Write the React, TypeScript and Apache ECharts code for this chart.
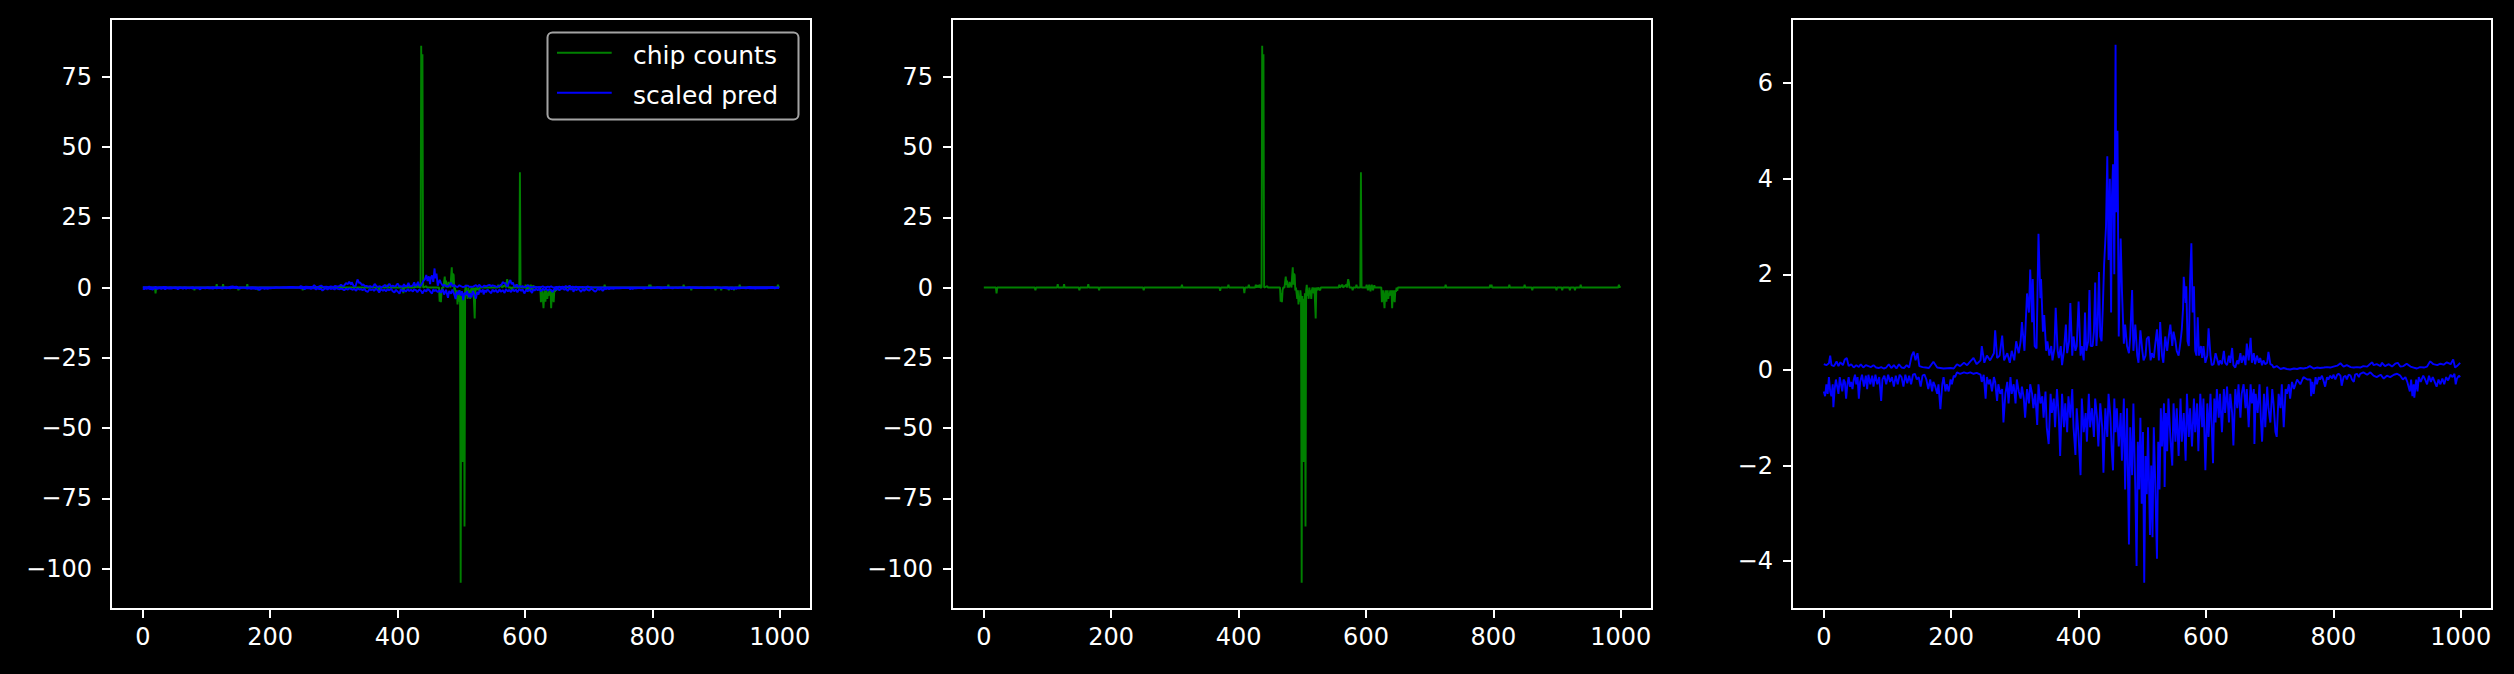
import React, { useEffect, useRef } from "react";
import * as echarts from "echarts";

// ---------- data ----------
const chipX = [0,19,20,21,80,81,82,115,116,117,125,126,127,149,150,151,163,164,165,180,181,182,250,251,252,310,311,312,370,371,372,383,384,385,408,409,410,415,416,417,426,427,428,430,431,433,434,436,437,438,439,440,445,446,465,466,467,468,469,470,472,473,474,475,476,477,478,479,480,481,482,483,484,485,486,487,488,489,490,491,492,493,494,495,496,497,498,499,500,501,502,503,504,505,506,507,508,509,510,511,512,513,514,515,516,518,519,520,521,522,524,525,528,529,557,558,559,563,564,569,570,571,572,573,574,578,579,580,584,585,586,591,592,593,600,601,602,603,604,605,606,607,608,609,610,611,612,613,614,624,625,626,627,628,629,630,631,632,633,634,635,636,637,638,639,640,641,642,643,644,645,646,647,648,649,650,724,725,726,794,795,796,797,798,824,825,826,848,849,850,860,861,862,898,899,900,907,908,909,919,920,921,927,928,929,936,937,938,996,997,998,999];
const chipCounts = [0,0,-2.1,0,0,-1,0,0,1.2,0,0,1.2,0,0,-1,0,0,1.2,0,0,-1,0,0,-1,0,0,1,0,0,-1.2,0,0,1,0,0,-2,0,0,1,0,0,1,0,0.8,0,1,0,0,86,62,83,0,0.5,0,0,-5,-2,-5.2,-1,0,0,2,3.9,1,2.5,0,1,0,2,0.5,1,0,4,7.2,1,5,4.4,-1,0,-2,-4,-1,-6,-3,-5,-1,-4,-105,-3,-62,-4,-62,-2,-85,-1,1,-3,-1,-4,0,-2,-1,-4,-1,0,-2,0,0,-11,0,-1,0,-1,0,0,1,0,1,0,1,0,0,3,2,0,0,-1,0,0,1,0,0,41,0,0,1,0,-1,0,1,0,-1.3,0,1,0,-1,0,0.8,0,0,-5.2,-2,-1,-4,-7.3,-3,-1,-5,-2,-1,-4,-2,-3,-1,-2,-1,-7.3,-3,-1,-4,-5.2,-1,-1.5,0,-1.2,0,0,1,0,0,1,0,1,0,0,1,0,0,1,0,0,-1,0,0,-1,0,0,-1,0,0,-1,0,0,-1,0,0,1,0,0,1,0,0.5];

const predUpperX = [0,4,8,10,12,16,20,23,26,30,33,36,39,43,47,51,55,58,62,66,70,74,78,82,86,90,94,98,102,106,110,114,118,122,126,130,134,138,141,144,147,150,155,160,165,172,178,188,199,204,209,214,220,225,230,235,240,246,248,252,256,261,267,269,272,276,280,283,288,292,295,299,302,306,309,311,315,319,322,324,327,328,331,334,337,340,341,344,346,349,351,354,357,359,362,364,367,369,372,374,377,380,382,385,387,390,392,395,397,400,403,405,408,410,412,415,417,419,422,424,426,428,430,432,434,436,438,440,443,445,447,449,451,452,454,456,458,459,461,463,466,468,471,473,476,479,481,484,486,489,492,494,497,500,502,505,507,510,513,515,518,520,523,526,528,531,533,536,539,541,544,547,549,552,554,557,560,562,564,565,568,569,571,573,575,577,579,581,583,585,587,589,592,594,596,599,602,604,607,609,612,615,617,620,622,625,628,630,633,636,638,641,643,646,649,651,654,656,659,662,664,667,670,672,675,677,680,683,685,688,690,693,696,698,701,704,706,711,717,722,727,732,738,743,748,753,759,763,769,774,779,785,790,795,800,806,811,816,821,827,832,837,842,847,853,858,861,863,868,874,876,881,887,892,897,901,905,910,915,921,926,931,936,942,947,952,957,963,968,973,978,984,988,991,994,997,999];
const predUpper = [0.12,0.10,0.14,0.30,0.10,0.08,0.18,0.08,0.16,0.10,0.22,0.25,0.08,0.12,0.05,0.10,0.06,0.12,0.05,0.10,0.08,0.06,0.10,0.05,0.04,0.06,0.03,0.05,0.12,0.04,0.10,0.03,0.12,0.05,0.04,0.10,0.05,0.30,0.38,0.20,0.35,0.08,0.06,0.05,0.04,0.17,0.05,0.03,0.04,0.03,0.12,0.08,0.15,0.10,0.18,0.25,0.12,0.20,0.50,0.15,0.30,0.20,0.35,0.83,0.25,0.30,0.72,0.20,0.35,0.15,0.40,0.20,0.60,0.35,0.60,1.00,0.40,1.60,1.20,2.10,1.00,1.90,0.50,0.45,2.85,1.50,1.90,0.80,1.15,0.40,0.60,0.30,0.50,0.20,0.45,1.30,0.40,0.25,0.50,0.10,0.40,0.95,0.35,0.60,1.40,0.30,0.70,0.40,0.50,1.43,0.30,0.50,0.20,1.20,0.40,0.60,1.67,0.50,0.50,0.80,1.83,0.50,1.00,2.05,0.70,0.60,1.30,2.20,3.00,4.47,2.30,4.00,1.20,3.50,4.30,2.00,6.80,3.30,5.00,0.70,2.75,1.67,0.55,0.95,0.50,0.35,0.70,1.67,0.40,0.95,0.30,0.15,0.83,0.40,0.20,0.30,0.65,0.70,0.20,0.35,0.25,0.50,0.85,0.20,1.00,0.30,0.15,0.70,0.40,0.65,0.95,0.50,0.80,0.60,0.40,0.30,0.60,0.85,1.30,1.95,1.40,1.75,0.60,0.50,1.90,2.65,1.20,1.75,0.40,0.30,1.10,0.30,0.50,0.25,0.50,0.15,0.30,0.87,0.30,0.10,0.12,0.35,0.25,0.10,0.20,0.12,0.40,0.15,0.10,0.30,0.15,0.46,0.10,0.05,0.20,0.12,0.35,0.15,0.30,0.10,0.55,0.20,0.67,0.15,0.35,0.12,0.30,0.15,0.25,0.10,0.20,0.12,0.15,0.38,0.12,0.10,0.05,0.08,0.02,0.04,0.02,0.01,0.03,0.02,0.04,0.03,0.05,0.08,0.03,0.05,0.04,0.05,0.06,0.05,0.07,0.09,0.14,0.07,0.10,0.06,0.05,0.06,0.05,0.08,0.07,0.13,0.16,0.10,0.12,0.08,0.15,0.08,0.12,0.07,0.13,0.15,0.07,0.08,0.13,0.07,0.05,0.03,0.06,0.05,0.07,0.18,0.12,0.10,0.13,0.11,0.16,0.12,0.22,0.05,0.08,0.12,0.15];

const predLowerX = [0,2,4,6,8,10,12,14,15,17,19,21,23,25,27,29,31,33,35,37,39,41,43,45,47,49,51,53,55,57,60,63,66,68,70,73,76,78,81,84,87,90,92,95,98,101,104,107,110,113,116,119,122,125,128,131,134,137,140,143,146,149,152,155,158,161,164,167,170,172,175,178,180,183,186,188,191,193,196,199,201,204,206,209,214,220,225,230,235,240,246,248,251,254,256,259,261,264,267,269,272,274,277,280,282,285,288,290,293,295,298,301,303,306,309,311,314,316,319,322,324,327,329,332,335,337,340,343,345,348,350,353,356,358,361,363,366,369,371,374,377,379,382,384,387,390,392,395,397,400,403,405,408,411,413,416,418,421,424,426,429,431,434,437,439,442,445,447,450,452,454,456,458,460,463,466,468,471,473,476,479,481,484,486,489,491,493,495,497,499,501,503,505,507,509,512,514,516,518,520,523,525,527,529,531,534,535,537,539,541,544,547,549,552,554,557,560,562,565,568,570,573,575,578,581,583,586,588,591,594,596,599,602,604,607,609,611,613,615,617,620,622,625,628,630,633,636,638,641,643,646,649,651,654,656,659,662,664,667,670,672,675,676,678,681,684,686,688,691,693,696,698,701,704,706,709,711,714,717,719,722,725,727,730,732,735,738,743,748,753,759,764,765,767,769,772,774,777,779,782,785,787,790,792,795,798,800,803,806,808,811,813,816,819,821,824,827,829,832,834,837,840,842,847,853,858,863,868,874,879,884,889,895,900,905,909,913,916,920,922,924,926,927,930,932,934,937,941,944,947,950,953,956,959,962,965,968,971,974,977,980,984,987,990,992,994,997,999];
const predLower = [-0.45,-0.55,-0.3,-0.5,-0.15,-0.45,-0.55,-0.3,-0.78,-0.4,-0.2,-0.35,-0.5,-0.15,-0.3,-0.45,-0.2,-0.25,-0.6,-0.3,-0.15,-0.35,-0.25,-0.4,-0.2,-0.1,-0.3,-0.15,-0.6,-0.25,-0.1,-0.35,-0.12,-0.4,-0.1,-0.3,-0.12,-0.35,-0.1,-0.3,-0.15,-0.65,-0.2,-0.12,-0.3,-0.1,-0.25,-0.15,-0.35,-0.12,-0.3,-0.1,-0.15,-0.35,-0.1,-0.28,-0.12,-0.3,-0.1,-0.08,-0.2,-0.15,-0.35,-0.12,-0.1,-0.2,-0.4,-0.2,-0.45,-0.25,-0.35,-0.5,-0.3,-0.82,-0.3,-0.15,-0.45,-0.3,-0.45,-0.2,-0.3,-0.12,-0.15,-0.05,-0.08,-0.05,-0.07,-0.05,-0.08,-0.06,-0.1,-0.25,-0.1,-0.6,-0.15,-0.3,-0.2,-0.45,-0.15,-0.25,-0.65,-0.3,-0.5,-0.4,-1.1,-0.5,-0.25,-0.7,-0.15,-0.5,-0.3,-0.7,-0.2,-0.45,-0.6,-0.35,-0.6,-1.0,-0.4,-0.7,-0.3,-0.5,-0.8,-0.5,-1.15,-0.3,-0.7,-0.55,-1.0,-0.45,-1.2,-1.55,-0.5,-0.9,-0.6,-1.2,-0.4,-1.0,-1.8,-0.5,-1.2,-0.7,-1.3,-0.55,-1.0,-0.4,-1.2,-1.78,-0.8,-1.4,-2.2,-0.6,-1.3,-0.9,-1.5,-0.5,-1.2,-0.8,-1.4,-0.6,-1.0,-1.6,-0.7,-1.2,-2.15,-0.8,-1.4,-0.5,-1.0,-1.7,-2.1,-0.6,-1.3,-0.8,-1.6,-0.9,-1.9,-0.6,-2.5,-0.8,-3.65,-1.2,-2.2,-0.7,-2.5,-4.1,-1.5,-2.5,-1.0,-2.8,-1.3,-4.45,-1.8,-2.6,-1.2,-3.45,-2.0,-3.5,-1.2,-2.2,-3.95,-1.5,-2.5,-0.8,-1.6,-0.7,-2.45,-0.9,-1.7,-0.6,-1.4,-2.0,-0.7,-1.5,-0.8,-1.8,-0.6,-1.5,-0.9,-1.9,-0.5,-1.4,-0.8,-1.6,-0.6,-1.3,-0.7,-1.7,-0.5,-1.2,-0.6,-2.1,-0.7,-1.4,-0.5,-1.2,-1.95,-0.6,-1.1,-0.4,-1.0,-0.5,-1.3,-0.4,-0.9,-0.35,-1.1,-0.5,-0.9,-1.58,-0.4,-0.8,-0.3,-1.0,-0.5,-0.3,-0.8,-0.4,-1.2,-0.3,-0.7,-0.4,-1.55,-0.5,-0.9,-0.3,-1.0,-1.5,-0.5,-1.2,-0.35,-0.8,-1.1,-0.4,-0.7,-1.3,-1.4,-0.5,-0.8,-0.3,-1.2,-0.4,-0.5,-0.3,-0.6,-0.25,-0.4,-0.2,-0.3,-0.15,-0.2,-0.2,-0.55,-0.25,-0.5,-0.15,-0.3,-0.15,-0.2,-0.12,-0.25,-0.35,-0.15,-0.2,-0.12,-0.18,-0.1,-0.2,-0.1,-0.08,-0.12,-0.33,-0.15,-0.12,-0.2,-0.1,-0.12,-0.2,-0.25,-0.1,-0.08,-0.15,-0.08,-0.05,-0.1,-0.05,-0.12,-0.15,-0.1,-0.18,-0.12,-0.15,-0.1,-0.08,-0.12,-0.2,-0.15,-0.25,-0.45,-0.2,-0.55,-0.3,-0.58,-0.2,-0.45,-0.15,-0.25,-0.12,-0.2,-0.3,-0.12,-0.25,-0.15,-0.25,-0.35,-0.2,-0.3,-0.18,-0.3,-0.15,-0.22,-0.1,-0.15,-0.08,-0.3,-0.18,-0.12,-0.15];

const xTicks = [0, 200, 400, 600, 800, 1000];
const countTicks = [-100, -75, -50, -25, 0, 25, 50, 75];
const predTicks = [-4, -2, 0, 2, 4, 6];
const legendLabels = ["chip counts", "scaled pred"];
const GREEN = "#008000";
const BLUE = "#0000ff";

const pairs = (xs: number[], ys: number[]) => xs.map((x, i) => [x, ys[i]]);
const fmt = (v: number) => (v < 0 ? "\u2212" + Math.abs(v) : String(v));

const FONT = "DejaVu Sans";
const TICK_FS = 24;
const LW = 1.9;

function xAxisFor(i: number) {
  return {
    type: "value",
    gridIndex: i,
    min: -49.95,
    max: 1048.95,
    splitLine: { show: false },
    axisLine: { show: true, onZero: false, lineStyle: { color: "#fff", width: 2 } },
    axisTick: { show: true, inside: false, length: 9, customValues: xTicks, lineStyle: { color: "#fff", width: 2 } },
    axisLabel: { show: true, customValues: xTicks, formatter: fmt, color: "#fff", fontSize: TICK_FS, fontFamily: FONT, margin: 16 },
  };
}
function yAxisFor(i: number, min: number, max: number, ticks: number[]) {
  return {
    type: "value",
    gridIndex: i,
    min,
    max,
    splitLine: { show: false },
    axisLine: { show: true, onZero: false, lineStyle: { color: "#fff", width: 2 } },
    axisTick: { show: true, inside: false, length: 9, customValues: ticks, lineStyle: { color: "#fff", width: 2 } },
    axisLabel: { show: true, customValues: ticks, formatter: fmt, color: "#fff", fontSize: TICK_FS, fontFamily: FONT, margin: 19 },
  };
}

function lineSeries(name: string, xi: number, data: number[][], color: string) {
  return {
    type: "line",
    name,
    xAxisIndex: xi,
    yAxisIndex: xi,
    data,
    symbol: "none",
    showSymbol: false,
    silent: true,
    clip: true,
    lineStyle: { color, width: LW },
    itemStyle: { color },
  };
}

export default function App() {
  const ref = useRef<HTMLDivElement>(null);
  useEffect(() => {
    document.body.style.margin = "0";
    document.body.style.background = "#000";
    if (!ref.current) return;
    const chart = echarts.init(ref.current, undefined, { renderer: "svg" });
    const chip = pairs(chipX, chipCounts);
    const up = pairs(predUpperX, predUpper);
    const lo = pairs(predLowerX, predLower);
    const grids = [111, 952, 1792].map((left) => ({
      left,
      top: 19,
      width: 700,
      height: 590,
      show: true,
      borderColor: "#fff",
      borderWidth: 2,
      backgroundColor: "#000",
    }));
    const legendFont = { fill: "#fff", fontSize: 25, fontFamily: FONT, verticalAlign: "middle", align: "left" };
    chart.setOption({
      animation: false,
      backgroundColor: "#000",
      grid: grids,
      xAxis: [xAxisFor(0), xAxisFor(1), xAxisFor(2)],
      yAxis: [
        yAxisFor(0, -114.3, 95.5, countTicks),
        yAxisFor(1, -114.3, 95.5, countTicks),
        yAxisFor(2, -5.0, 7.34, predTicks),
      ],
      series: [
        lineSeries(legendLabels[0], 0, chip, GREEN),
        lineSeries(legendLabels[1], 0, up, BLUE),
        lineSeries(legendLabels[1], 0, lo, BLUE),
        lineSeries(legendLabels[0], 1, chip, GREEN),
        lineSeries(legendLabels[1], 2, up, BLUE),
        lineSeries(legendLabels[1], 2, lo, BLUE),
      ],
      graphic: [
        {
          type: "rect",
          z: 100,
          shape: { x: 547.5, y: 32.5, width: 251, height: 87, r: 5 },
          style: { fill: "rgba(0,0,0,0.8)", stroke: "#a3a3a3", lineWidth: 2 },
        },
        { type: "line", z: 101, shape: { x1: 557, y1: 52.7, x2: 611.7, y2: 52.7 }, style: { stroke: GREEN, lineWidth: 2 } },
        { type: "line", z: 101, shape: { x1: 557, y1: 92.7, x2: 611.7, y2: 92.7 }, style: { stroke: BLUE, lineWidth: 2 } },
        { type: "text", z: 101, x: 633, y: 55, style: { text: legendLabels[0], ...legendFont } },
        { type: "text", z: 101, x: 633, y: 95, style: { text: legendLabels[1], ...legendFont } },
      ],
    });
    return () => chart.dispose();
  }, []);
  return <div ref={ref} style={{ width: 2514, height: 674, background: "#000" }} />;
}
